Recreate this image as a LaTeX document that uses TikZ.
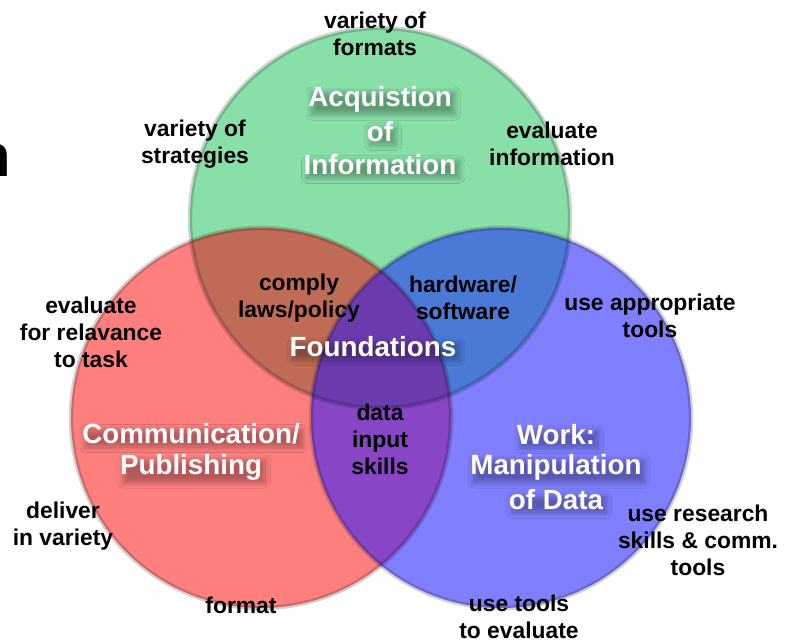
\documentclass[tikz,border=0pt]{standalone}
\usepackage{fontspec}
\usetikzlibrary{shadows.blur}
\setmainfont{Liberation Sans}
\definecolor{cG}{HTML}{88DFA8}
\definecolor{cR}{HTML}{FF7F7F}
\definecolor{cB}{HTML}{7F7FFF}
\definecolor{cGR}{HTML}{BF6B55}
\definecolor{cGB}{HTML}{4A7AD6}
\definecolor{cRB}{HTML}{8845C6}
\definecolor{cGRB}{HTML}{6A3CAE}
\begin{document}
\begin{tikzpicture}[x=0.02cm,y=-0.02cm,
  lbl/.style={align=center,font=\bfseries\fontsize{13}{15.3}\selectfont,text=black,inner sep=0pt},
  ttl/.style={align=center,font=\bfseries\fontsize{15.8}{18.7}\selectfont,text=white,
    inner xsep=0pt,inner ysep=-1pt,
    blur shadow={shadow xshift=1.8pt,shadow yshift=-2.6pt,shadow opacity=30,shadow blur radius=3pt,shadow blur steps=14}},
  rim/.style={draw=black,draw opacity=0.18,line width=2.5pt}]
\useasboundingbox (0,0) rectangle (787,641);
\def\rr{190}
\coordinate (G) at (380,218);
\coordinate (R) at (261,418);
\coordinate (B) at (501,418);
% base circles
\fill[cG] (G) circle (\rr);
\fill[cR] (R) circle (\rr);
\fill[cB] (B) circle (\rr);
\begin{scope}
  \clip (G) circle (\rr);
  \fill[cGR] (R) circle (\rr);
  \fill[cGB] (B) circle (\rr);
\end{scope}
\begin{scope}
  \clip (R) circle (\rr);
  \fill[cRB] (B) circle (\rr);
\end{scope}
\begin{scope}
  \clip (G) circle (\rr);
  \clip (R) circle (\rr);
  \fill[cGRB] (B) circle (\rr);
\end{scope}
\draw[rim] (G) circle (\rr);
\draw[rim] (R) circle (\rr);
\draw[rim] (B) circle (\rr);
% clipped letter at the left edge
\node[anchor=east,inner sep=0pt,font=\bfseries\fontsize{34}{34}\selectfont] (n) at (11,160) {n};
% labels
\node[lbl] (vf) at (375,34) {variety of\\formats};
\node[lbl] (vs) at (195,144) {variety of\\strategies};
\node[lbl] (ei) at (552,144) {evaluate\\information};
\node[lbl] (cl) at (299,298) {comply\\laws/policy};
\node[lbl] (hs) at (463,298) {hardware/\\software};
\node[lbl] (er) at (91,332) {evaluate\\for relavance\\to task};
\node[lbl] (ua) at (650,316) {use appropriate\\tools};
\node[lbl] (di) at (380,439) {data\\input\\skills};
\node[lbl] (dv) at (63,526) {deliver\\in variety};
\node[lbl] (fm) at (241,605) {format};
\node[lbl] (ur) at (698,540) {use research\\skills \& comm.\\tools};
\node[lbl] (ut) at (519,617) {use tools\\to evaluate};
% titles (one node per line, with soft shadows)
\node[ttl] (aq1) at (380,99) {Acquistion};
\node[ttl] (aq2) at (380,132) {of};
\node[ttl] (aq3) at (380,165) {Information};
\node[ttl] (fd) at (373,347) {Foundations};
\node[ttl] (cp1) at (191,434) {Communication/};
\node[ttl] (cp2) at (191,467) {Publishing};
\node[ttl] (wk1) at (556,435) {Work:};
\node[ttl] (wk2) at (556,467) {Manipulation};
\node[ttl] (wk3) at (556,500) {of Data};
\end{tikzpicture}
\end{document}
